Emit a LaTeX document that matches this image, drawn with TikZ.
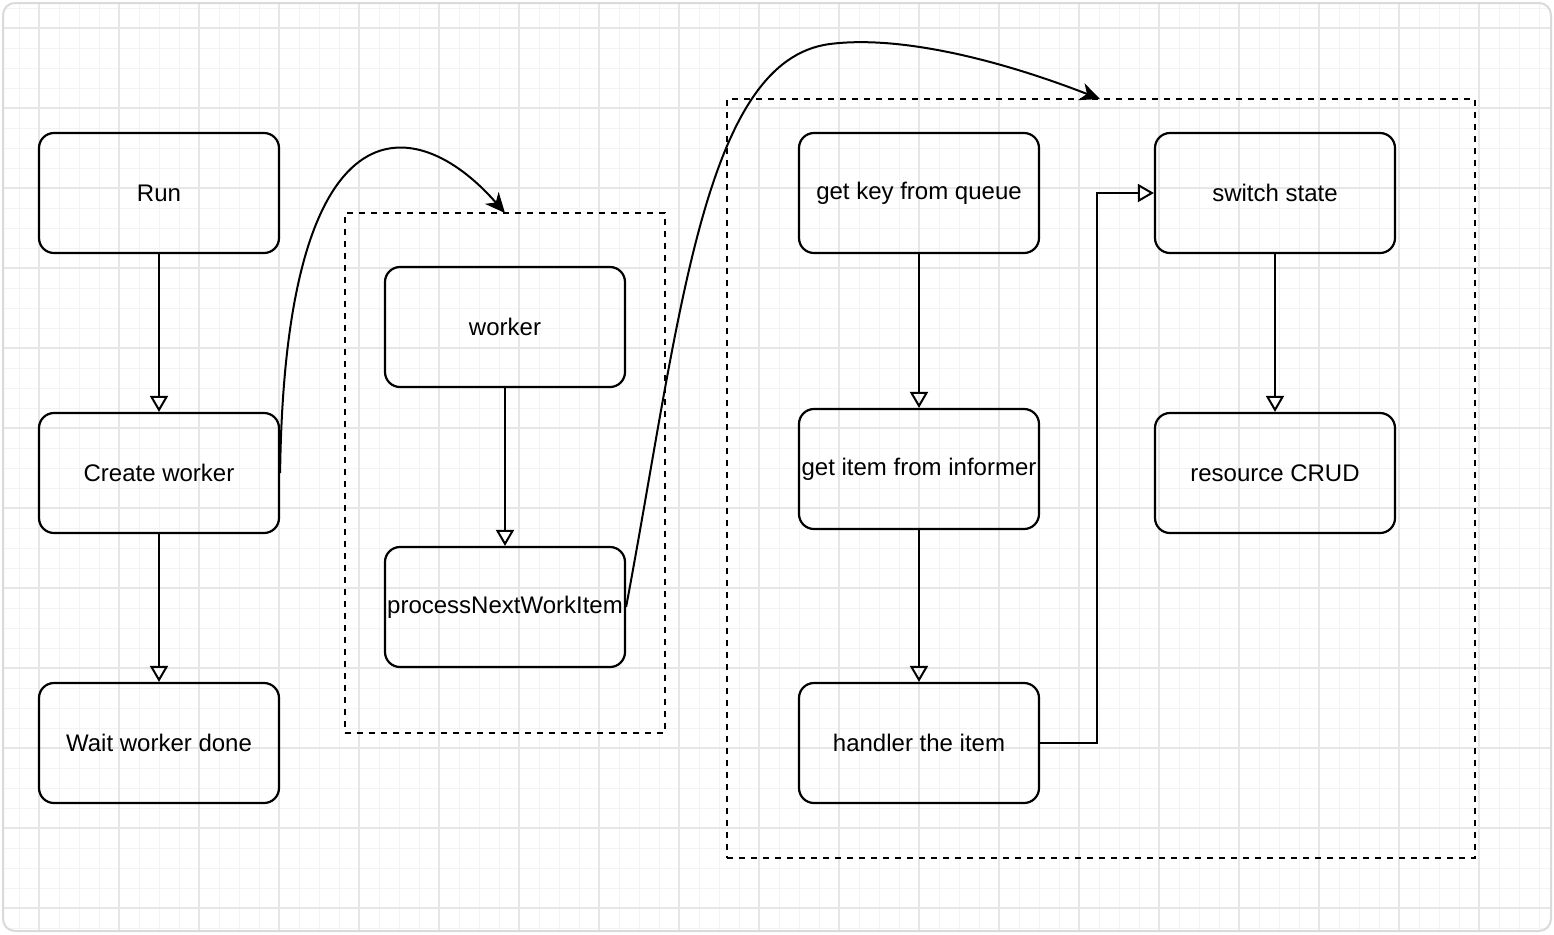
\documentclass[tikz,border=0pt]{standalone}
\usepackage{fontspec}
\setmainfont{Liberation Sans}
\usetikzlibrary{arrows.meta}
\definecolor{gridminor}{HTML}{F3F3F3}
\definecolor{gridmajor}{HTML}{E6E6E6}
\definecolor{framecol}{HTML}{DADADA}
\begin{document}
\begin{tikzpicture}[x=0.5pt,y=-0.5pt,
  box/.style={draw, line width=1.1pt, rounded corners=7.5pt, minimum width=120pt, minimum height=60pt, inner sep=0pt, font=\fontsize{12}{14}\selectfont},
  grp/.style={draw, line width=1pt, dash pattern=on 3pt off 3pt},
  flow/.style={draw, line width=1pt, -{Triangle[open, length=8pt, width=9pt]}},
  curvy/.style={draw, line width=1pt, -{Stealth[length=10pt, width=9pt, inset=3pt]}}]
\useasboundingbox (0,0) rectangle (1554,934);
\fill[white] (0,0) rectangle (1554,934);
% grid
\begin{scope}
\clip[rounded corners=6pt] (3,3) rectangle (1551,931);
\foreach \x in {19,39,...,1551} \draw[gridminor, line width=0.5pt] (\x,3) -- (\x,931);
\foreach \y in {8,28,...,931} \draw[gridminor, line width=0.5pt] (3,\y) -- (1551,\y);
\foreach \x in {39,119,...,1551} \draw[gridmajor, line width=0.6pt] (\x,3) -- (\x,931);
\foreach \y in {28,108,...,931} \draw[gridmajor, line width=0.6pt] (3,\y) -- (1551,\y);
\end{scope}
\draw[framecol, line width=1pt, rounded corners=6pt] (3,3) rectangle (1551,931);

% group boxes
\node[grp, minimum width=160pt, minimum height=260pt, inner sep=0pt] (g1) at (505,473) {};
\node[grp, minimum width=374pt, minimum height=379.5pt, inner sep=0pt] (g2) at (1101,478.5) {};

% nodes
\node[box] (run) at (159,193) {Run};
\node[box] (create) at (159,473) {Create worker};
\node[box] (wait) at (159,743) {Wait worker done};
\node[box] (worker) at (505,327) {worker};
\node[box] (pnwi) at (505,607) {processNextWorkItem};
\node[box] (getkey) at (919,193) {get key from queue};
\node[box] (getitem) at (919,469) {get item from informer};
\node[box] (handler) at (919,743) {handler the item};
\node[box] (switch) at (1275,193) {switch state};
\node[box] (crud) at (1275,473) {resource CRUD};

% straight edges
\draw[flow] (run) -- (create);
\draw[flow] (create) -- (wait);
\draw[flow] (worker) -- (pnwi);
\draw[flow] (getkey) -- (getitem);
\draw[flow] (getitem) -- (handler);
\draw[flow] (switch) -- (crud);
\coordinate (c1) at (1097,743);
\coordinate (c2) at (1097,193);
\draw[flow] (handler.east) -- (c1) -- (c2) -- (switch.west);

% curved edges
\coordinate (t1) at (505,213);
\coordinate (t2) at (1100,99);
\coordinate (m2) at (830,44);
\draw[curvy] (create.east) .. controls (285,95) and (415,110) .. (t1);
\draw[curvy] (pnwi.east) .. controls (680,320) and (703,60) .. (m2) .. controls (900,35) and (1000,60) .. (t2);
\end{tikzpicture}
\end{document}
